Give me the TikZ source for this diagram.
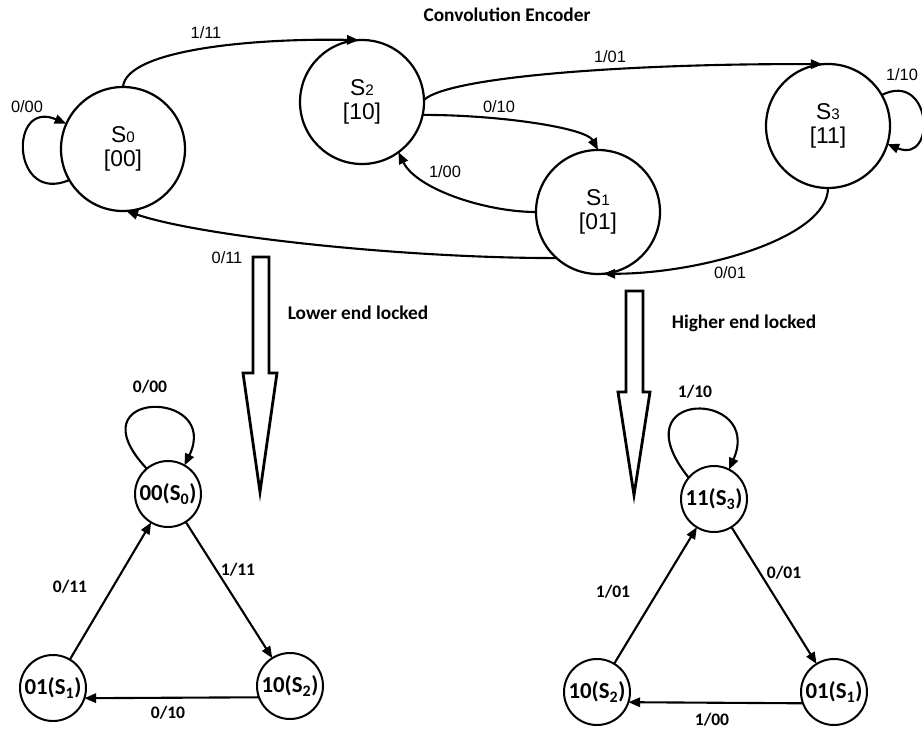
\documentclass[tikz,border=0pt]{standalone}
\usepackage{fontspec}
\setmainfont{Liberation Sans}
\newfontfamily\calibri{Carlito}
\usetikzlibrary{arrows.meta}
\newcommand{\subdig}[1]{{\fontsize{13}{13}\selectfont #1}}

\begin{document}
\begin{tikzpicture}[x=0.03cm, y=-0.03cm,
    every node/.style={outer sep=0pt},
    state/.style={circle, draw, line width=1.9pt, minimum size=3.72cm, inner sep=0pt, align=center, font=\fontsize{19.5}{20}\selectfont},
    lstate/.style={circle, draw, line width=1.7pt, minimum size=1.98cm, inner sep=0pt, font=\calibri\bfseries\fontsize{19.5}{21}\selectfont},
    lbl/.style={font=\fontsize{14}{16}\selectfont},
    blbl/.style={font=\calibri\bfseries\fontsize{15}{17}\selectfont},
    head/.style={font=\calibri\bfseries\fontsize{16.5}{19}\selectfont},
    trans/.style={line width=1.8pt, -{Triangle[length=10pt,width=8pt]}},
    bigarrow/.style={line width=2.4pt, line join=miter}]
    \useasboundingbox (0,0) rectangle (922,729);

    % convolution encoder
    \node[head] (title) at (507,15) {Convolution Encoder};
    \node[state] (s0) at (123,149) {S\subdig{0}\\{[00]}};
    \node[state] (s2) at (362,102) {S\subdig{2}\\{[10]}};
    \node[state] (s1) at (598,212) {S\subdig{1}\\{[01]}};
    \node[state] (s3) at (828,126) {S\subdig{3}\\{[11]}};

    \draw[trans] (s0.-150) .. controls +(-58,25) and +(-58,-25) .. (s0.156);
    \draw[trans] (s0.90) .. controls +(3,-37) and +(-108,-2) .. (s2.93);
    \draw[trans] (s2.2) .. controls +(28,-25) and +(-173,-1) .. (s3.95);
    \draw[trans] (s2.-12) .. controls +(78,0) and +(-12,-22) .. (s1.90);
    \draw[trans] (s1.180) .. controls +(-50,0) and +(18,37) .. (s2.-54);
    \draw[trans] (s1.-132) .. controls +(-157,0) and +(73,25) .. (s0.-87);
    \draw[trans] (s3.-90) .. controls +(0,50) and +(97,0) .. (s1.-85);
    \draw[trans] (s3.30) .. controls +(50,-25) and +(50,20) .. (s3.-17);

    \node[lbl] (ls0s0) at (27,107) {0/00};
    \node[lbl] (ls0s2) at (206,33) {1/11};
    \node[lbl] (ls2s3) at (610,57) {1/01};
    \node[lbl] (ls2s1) at (499,107) {0/10};
    \node[lbl] (ls1s2) at (445,172) {1/00};
    \node[lbl] (ls1s0) at (227,258) {0/11};
    \node[lbl] (ls3s1) at (730,273) {0/01};
    \node[lbl] (ls3s3) at (902,75) {1/10};

    % hollow arrows
    \draw[bigarrow] (253,257) -- (269,257) -- (269,373) -- (277,373) -- (260,492) -- (243,373) -- (253,373) -- cycle;
    \draw[bigarrow] (626,291) -- (643,291) -- (643,392) -- (650,392) -- (634,495) -- (618,392) -- (626,392) -- cycle;
    \node[head] (lower) at (358,313) {Lower end locked};
    \node[head] (higher) at (744,323) {Higher end locked};

    % lower end locked
    \node[lstate] (lo0) at (168,494) {00(S\textsubscript{0})};
    \node[lstate] (lo1) at (53,688) {01(S\textsubscript{1})};
    \node[lstate] (lo2) at (290,686) {10(S\textsubscript{2})};
    \draw[trans] (lo0.130) .. controls +(-75,-80) and +(37,-77) .. (lo0.60);
    \draw[trans] (lo0) -- (lo2);
    \draw[trans] (lo2.200) -- (lo1.-18);
    \draw[trans] (lo1) -- (lo0);
    \node[blbl] (llo00) at (150,387) {0/00};
    \node[blbl] (llo02) at (238,570) {1/11};
    \node[blbl] (llo21) at (168,713) {0/10};
    \node[blbl] (llo10) at (70,587) {0/11};

    % higher end locked
    \node[lstate] (hi3) at (714,499) {11(S\textsubscript{3})};
    \node[lstate] (hi2) at (597,692) {10(S\textsubscript{2})};
    \node[lstate] (hi1) at (834,692) {01(S\textsubscript{1})};
    \draw[trans] (hi3.140) .. controls +(-72,-90) and +(35,-80) .. (hi3.63);
    \draw[trans] (hi3) -- (hi1);
    \draw[trans] (hi1.200) -- (hi2.-18);
    \draw[trans] (hi2) -- (hi3);
    \node[blbl] (lhi33) at (695,392) {1/10};
    \node[blbl] (lhi31) at (784,573) {0/01};
    \node[blbl] (lhi12) at (712,720) {1/00};
    \node[blbl] (lhi23) at (613,592) {1/01};
\end{tikzpicture}
\end{document}
